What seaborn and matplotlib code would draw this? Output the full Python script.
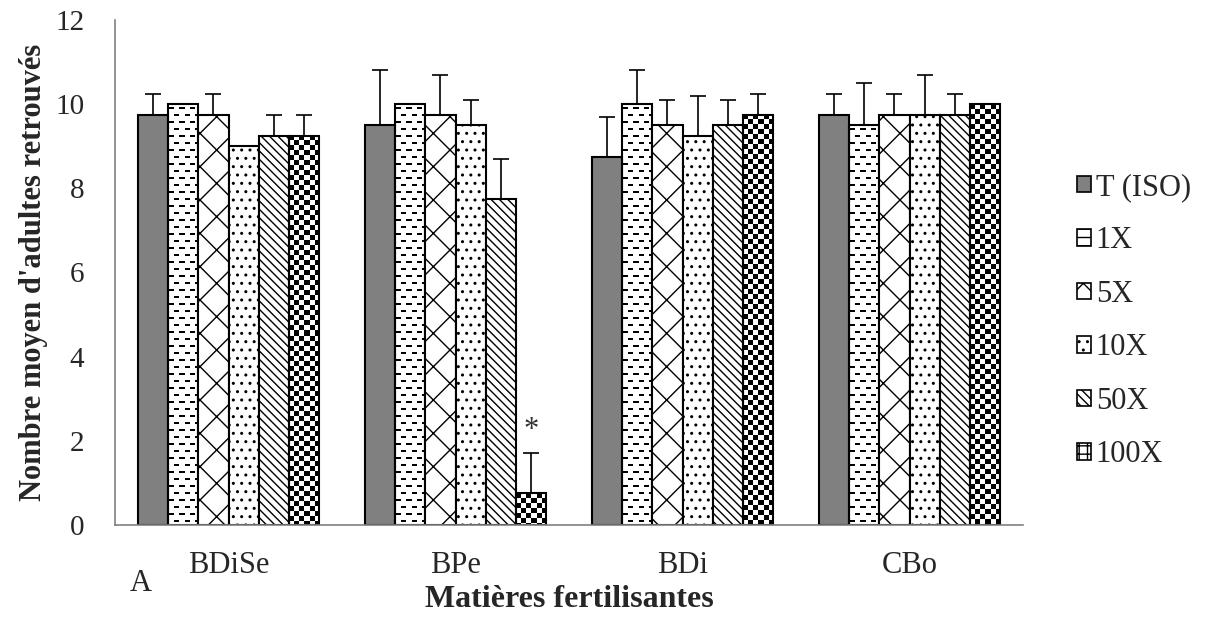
import matplotlib
matplotlib.use("Agg")
import matplotlib.pyplot as plt
from matplotlib.patches import Patch
import seaborn as sns
import pandas as pd
import numpy as np

# data
categories = ["BDiSe", "BPe", "BDi", "CBo"]
doses = ["T (ISO)", "1X", "5X", "10X", "50X", "100X"]
means = {
    "T (ISO)": [9.75, 9.5, 8.75, 9.75],
    "1X": [10.0, 10.0, 10.0, 9.5],
    "5X": [9.75, 9.75, 9.5, 9.75],
    "10X": [9.0, 9.5, 9.25, 9.75],
    "50X": [9.25, 7.75, 9.5, 9.75],
    "100X": [9.25, 0.75, 9.75, 10.0],
}
errors = {
    "T (ISO)": [0.5, 1.3, 0.95, 0.5],
    "1X": [0.0, 0.0, 0.82, 1.0],
    "5X": [0.5, 0.95, 0.6, 0.5],
    "10X": [0.0, 0.6, 0.95, 0.95],
    "50X": [0.5, 0.95, 0.6, 0.5],
    "100X": [0.5, 0.95, 0.5, 0.0],
}

rows = []
for d in doses:
    for c, m in zip(categories, means[d]):
        rows.append({"Matière": c, "Dose": d, "Moyenne": m})
df = pd.DataFrame(rows)

# small pixel tiles for the patterns matplotlib has no hatch for
dash_tile = np.zeros((14, 10))
dash_tile[3:5, 1:6] = 1
dash_tile[10:12, 6:10] = 1
dash_tile[10:12, 0:1] = 1
checker_tile = np.zeros((10, 10))
checker_tile[0:5, 0:5] = 1
checker_tile[5:10, 5:10] = 1


def pattern_fill(ax, bar, tile):
    x0, y0 = bar.get_x(), bar.get_y()
    x1, y1 = x0 + bar.get_width(), y0 + bar.get_height()
    (px0, py0), (px1, py1) = ax.transData.transform([(x0, y0), (x1, y1)])
    nx = max(int(round(px1 - px0)), 1)
    ny = max(int(round(py1 - py0)), 1)
    reps = (ny // tile.shape[0] + 1, nx // tile.shape[1] + 1)
    img = np.tile(tile, reps)[:ny, :nx]
    im = ax.imshow(img, extent=(x0, x1, y0, y1), cmap="gray_r", vmin=0, vmax=1,
                   interpolation="nearest", aspect="auto", zorder=0.9)
    im.set_clip_path(bar)


sns.set_style("white")
plt.rcParams["font.family"] = ["Liberation Serif", "DejaVu Serif"]
plt.rcParams["hatch.linewidth"] = 1.0

fig = plt.figure(figsize=(12.16, 6.27), dpi=100)
ax = fig.add_axes([0.0946, 0.1627, 0.7467, 0.8054])

sns.barplot(data=df, x="Matière", y="Moyenne", hue="Dose", order=categories,
            hue_order=doses, errorbar=None, width=0.8, ax=ax, legend=False)
ax.set_ylim(0, 12)
ax.set_xlim(-0.5, 3.5)

facecolors = ["#808080", "none", "white", "white", "white", "none"]
hatches = [None, None, "x", "..", "\\\\\\\\", None]
tiles = {1: dash_tile, 5: checker_tile}

bar_containers = list(ax.containers)
for i, cont in enumerate(bar_containers):
    d = doses[i]
    xs, tops, errs = [], [], []
    for bar, m, e in zip(cont.patches, means[d], errors[d]):
        bar.set_facecolor(facecolors[i])
        bar.set_edgecolor("black")
        bar.set_linewidth(1.5)
        bar.set_zorder(1)
        if hatches[i]:
            bar.set_hatch(hatches[i])
        if i in tiles:
            pattern_fill(ax, bar, tiles[i])
        if e > 0:
            xs.append(bar.get_x() + bar.get_width() / 2)
            tops.append(m)
            errs.append(e)
    if xs:
        ax.errorbar(xs, tops, yerr=[np.zeros(len(errs)), errs], fmt="none",
                    ecolor="black", elinewidth=1.2, capsize=5.5, capthick=1.2)

# asterisk above BPe 100X
star_bar = bar_containers[5].patches[1]
ax.text(star_bar.get_x() + star_bar.get_width() / 2,
        means["100X"][1] + errors["100X"][1] + 0.2, "*",
        ha="center", va="bottom", fontsize=22, color="#333333")

ax.set_ylim(0, 12)
ax.set_xlim(-0.5, 3.5)
ax.set_yticks(range(0, 13, 2))
ax.set_xticks(range(len(categories)))
ax.set_xticklabels(categories)
ax.set_xticks([-0.5, 0.5, 1.5, 2.5, 3.5], minor=True)
ax.tick_params(axis="x", which="major", length=0, labelsize=22, pad=19)
ax.tick_params(axis="x", which="minor", length=7, color="#808080", width=1.2, direction="out")
ax.tick_params(axis="y", length=6, color="#808080", width=1.2, labelsize=21, direction="out", pad=16)

for s in ["top", "right"]:
    ax.spines[s].set_visible(False)
for s in ["left", "bottom"]:
    ax.spines[s].set_color("#808080")
    ax.spines[s].set_linewidth(1.2)

ax.set_xlabel("Matières fertilisantes", fontsize=23, fontweight="bold")
ax.xaxis.set_label_coords(0.5, -0.118)
ax.xaxis.label.set_va("top")
ax.set_ylabel("Nombre moyen d'adultes retrouvés", fontsize=22, fontweight="bold", labelpad=5)
fig.text(0.107, 0.07, "A", fontsize=22, va="center")

# legend
leg_faces = ["#808080", "white", "white", "white", "white", "white"]
leg_hatches = [None, "--", "x", "..", "\\\\\\\\", "++"]
handles = [Patch(facecolor=leg_faces[i], edgecolor="black", hatch=leg_hatches[i], linewidth=1.2)
           for i in range(len(doses))]
fig.legend(handles, doses, loc="upper left", bbox_to_anchor=(0.886, 0.724),
           frameon=False, fontsize=22, handlelength=0.45, handleheight=0.45,
           handletextpad=0.15, labelspacing=0.8, borderaxespad=0, borderpad=0)

fig.savefig("out.png", dpi=100)
